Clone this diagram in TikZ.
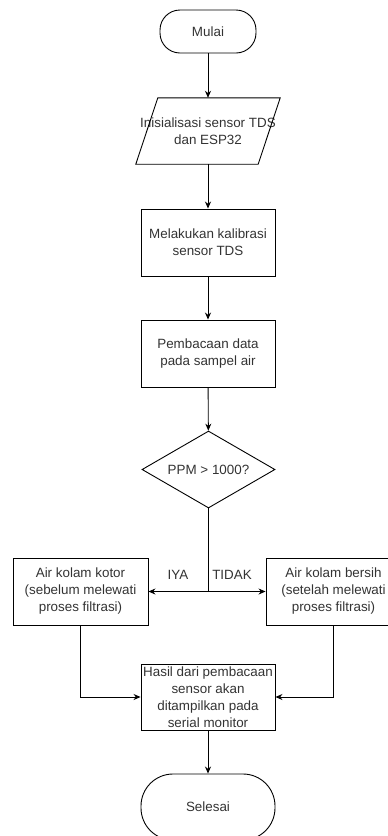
\documentclass[tikz,border=0pt]{standalone}
\usepackage{fontspec}
\setmainfont{Liberation Sans}
\usetikzlibrary{arrows.meta, shapes.geometric}

\begin{document}
\begin{tikzpicture}[x=1pt, y=-1pt, >={Stealth[length=7pt, width=6pt]},
    every node/.style={font=\fontsize{13.4}{17}\selectfont, text=black!80},
    box/.style={draw=black, line width=0.9pt, minimum width=134pt, minimum height=67pt, align=center, inner sep=1pt},
    term/.style={box, rounded corners=#1},
    line/.style={draw=black, line width=0.9pt}]
    \useasboundingbox (0,0) rectangle (388,836);
    \clip (0,0) rectangle (388,836);

    % Start and setup
    \node[term=20pt, minimum width=96pt, minimum height=43pt] (mulai) at (208, 31.5) {Mulai};
    \node[align=center, minimum width=144pt, minimum height=66pt, inner sep=0pt] (init) at (208, 131) {Inisialisasi sensor TDS\\dan ESP32};
    \draw[line] ([xshift=22pt]init.north west) -- (init.north east) -- ([xshift=-22pt]init.south east) -- (init.south west) -- cycle;
    \node[box] (calib) at (208, 242.5) {Melakukan kalibrasi\\sensor TDS};
    \node[box] (read) at (208, 353.5) {Pembacaan data\\pada sampel air};

    % Decision
    \node[draw=black, line width=0.9pt, diamond, aspect=1.73, inner sep=0pt, minimum width=133pt, minimum height=77pt] (decide) at (208.5, 469.5) {PPM > 1000?};

    % Outcomes
    \node[box, minimum width=135pt] (dirty) at (80.5, 591.5) {Air kolam kotor\\(sebelum melewati\\proses filtrasi)};
    \node[box, minimum width=135pt] (clean) at (333.5, 591.5) {Air kolam bersih\\(setelah melewati\\proses filtrasi)};
    \node (iya) at (178, 575) {IYA};
    \node (tidak) at (232, 575) {TIDAK};

    % Result and end
    \node[box, minimum height=66pt] (result) at (208, 697) {Hasil dari pembacaan\\sensor akan\\ditampilkan pada\\serial monitor};
    \node[term=32pt, minimum height=66pt] (selesai) at (208, 807) {Selesai};

    % Arrows
    \draw[line, ->] (mulai) -- (init);
    \draw[line, ->] (init) -- (calib);
    \draw[line, ->] (calib) -- (read);
    \draw[line, ->] (read) -- (decide);
    \draw[line, ->] (decide.south) |- (dirty.east);
    \draw[line, ->] (decide.south) |- (clean.west);
    \draw[line, ->] (dirty.south) |- (result.west);
    \draw[line, ->] (clean.south) |- (result.east);
    \draw[line, ->] (result) -- (selesai);
\end{tikzpicture}
\end{document}
